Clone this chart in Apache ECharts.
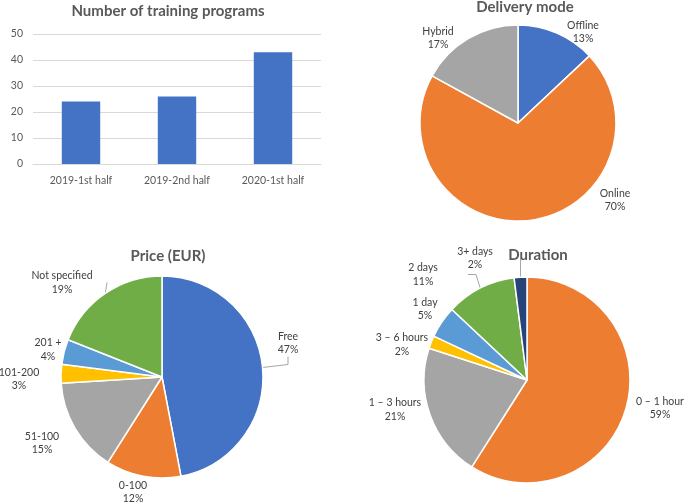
<!DOCTYPE html>
<html><head><meta charset="utf-8">
<script src="https://cdn.jsdelivr.net/npm/echarts@6/dist/echarts.min.js"></script>
<style>html,body{margin:0;padding:0;background:#fff}#c{width:685px;height:504px}</style>
</head><body><div id="c"></div>
<script>
// ---- data ----
const barCategories = ['2019-1st half', '2019-2nd half', '2020-1st half'];
const barValues = [24, 26, 43];
const yTicks = [0, 10, 20, 30, 40, 50];

const deliveryNames = ['Offline', 'Online', 'Hybrid'];
const deliveryValues = [13, 70, 17];

const priceNames = ['Free', '0-100', '51-100', '101-200', '201 +', 'Not specified'];
const priceValues = [47, 12, 15, 3, 4, 19];

const durationNames = ['0 \u2013 1 hour', '1 \u2013 3 hours', '3 \u2013 6 hours', '1 day', '2 days', '3+ days'];
const durationValues = [59, 21, 2, 5, 11, 2];

// ---- styling / layout (not data) ----
const deliveryColors = ['#4472C4', '#ED7D31', '#A5A5A5'];
const priceColors = ['#4472C4', '#ED7D31', '#A5A5A5', '#FFC000', '#5B9BD5', '#70AD47'];
const durationColors = ['#ED7D31', '#A5A5A5', '#FFC000', '#5B9BD5', '#70AD47', '#264478'];

const deliveryLabelPos = [[583, 32], [615, 200], [438, 38]];
const deliveryLine = [false, false, true];
const priceLabelPos = [[288, 343], [133, 492], [42, 443], [19, 379], [48, 349.5], [62, 282.5]];
const priceLine = [true, false, true, true, false, true];
const durationLabelPos = [[660, 408], [395, 409.5], [402, 344.5], [425, 309], [423, 274.5], [475, 258]];
const durationLine = [true, true, true, false, true, true];

const FONT = 'Lato, "Liberation Sans", sans-serif';
const titleStyle = {fontFamily: FONT, fontSize: 15, fontWeight: 'bold', color: '#595959'};

function buildData(names, values, colors, lines) {
  return names.map((n, i) => ({
    name: n, value: values[i],
    itemStyle: {color: colors[i]},
    labelLine: {show: lines[i]}
  }));
}
function pieSeries(names, values, colors, lines, pos, center, radius) {
  return {
    type: 'pie',
    center: center,
    radius: radius,
    startAngle: 90,
    clockwise: true,
    animation: false,
    itemStyle: {borderColor: '#fff', borderWidth: 1.5},
    label: {
      show: true, position: 'outside',
      formatter: p => p.name + '\n' + p.value + '%',
      fontFamily: FONT, fontSize: 10.5, lineHeight: 13.5, color: '#404040', align: 'center',
      width: 90, overflow: 'none'
    },
    labelLine: {show: true, length: 8, length2: 8, lineStyle: {color: '#A6A6A6', width: 1}},
    emphasis: {disabled: true},
    labelLayout: function (params) {
      const p = pos[params.dataIndex];
      return {x: p[0], y: p[1], align: 'center', verticalAlign: 'middle'};
    },
    data: buildData(names, values, colors, lines)
  };
}

const chart = echarts.init(document.getElementById('c'), null, {renderer: 'canvas'});
chart.setOption({
  animation: false,
  title: [
    {text: 'Number of training programs', left: 168, top: 4, textAlign: 'center', padding: 0, textStyle: titleStyle},
    {text: 'Delivery mode', left: 525, top: 0, textAlign: 'center', padding: 0, textStyle: titleStyle},
    {text: 'Price (EUR)', left: 168, top: 249, textAlign: 'center', padding: 0, textStyle: titleStyle},
    {text: 'Duration', left: 538, top: 248, textAlign: 'center', padding: 0, textStyle: titleStyle}
  ],
  grid: {left: 33, right: 364, top: 34, bottom: 340, containLabel: false},
  xAxis: {
    type: 'category', data: barCategories,
    axisLine: {lineStyle: {color: '#D9D9D9'}},
    axisTick: {show: false},
    axisLabel: {color: '#595959', fontFamily: FONT, fontSize: 10.5, margin: 11}
  },
  yAxis: {
    type: 'value', min: yTicks[0], max: yTicks[yTicks.length - 1], interval: yTicks[1] - yTicks[0],
    axisLine: {show: false}, axisTick: {show: false},
    splitLine: {lineStyle: {color: '#D9D9D9'}},
    axisLabel: {color: '#595959', fontFamily: FONT, fontSize: 10.5, margin: 10}
  },
  series: [
    {type: 'bar', data: barValues, barWidth: '40%', itemStyle: {color: '#4472C4'}, animation: false},
    pieSeries(deliveryNames, deliveryValues, deliveryColors, deliveryLine, deliveryLabelPos, [518, 123], 98),
    pieSeries(priceNames, priceValues, priceColors, priceLine, priceLabelPos, [162, 377], 101),
    pieSeries(durationNames, durationValues, durationColors, durationLine, durationLabelPos, [527, 380], 103)
  ]
});
</script></body></html>
